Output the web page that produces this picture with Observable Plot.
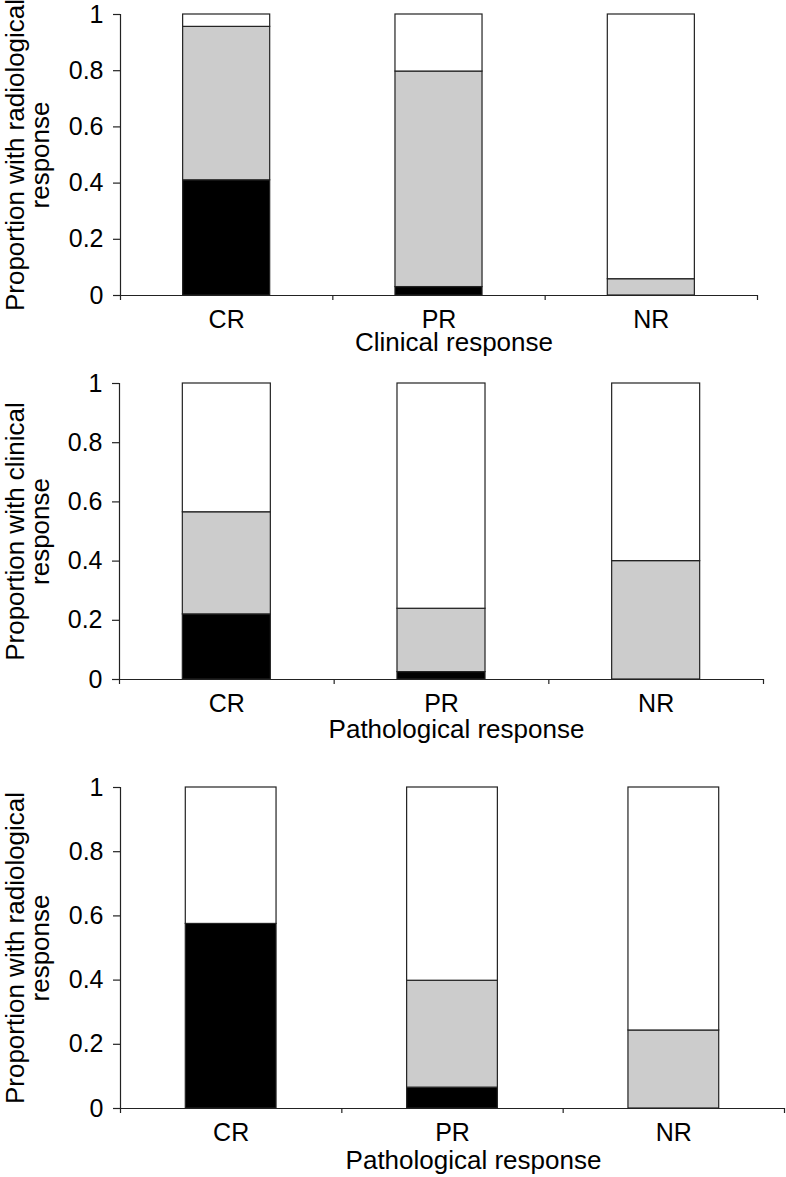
<!DOCTYPE html>
<html><head><meta charset="utf-8">
<script src="https://cdn.jsdelivr.net/npm/d3@7"></script>
<script src="https://cdn.jsdelivr.net/npm/@observablehq/plot@0.6"></script>
<style>body{margin:0;background:#fff;} svg{display:block;}</style>
</head><body><div id="chart"></div>
<script>
const categories = ["CR", "PR", "NR"];
const yTicks = [0, 0.2, 0.4, 0.6, 0.8, 1];
const segmentFills = {black: "#000000", grey: "#cccccc", white: "#ffffff"};

// Panel 1: radiological response by clinical response
const p1Title = "Clinical response";
const p1YLabel = ["Proportion with radiological", "response"];
const p1Black = [0.41, 0.03, 0];
const p1Grey = [0.546, 0.767, 0.058];
const p1White = [0.044, 0.203, 0.942];

// Panel 2: clinical response by pathological response
const p2Title = "Pathological response";
const p2YLabel = ["Proportion with clinical", "response"];
const p2Black = [0.22, 0.025, 0];
const p2Grey = [0.345, 0.214, 0.40];
const p2White = [0.435, 0.761, 0.60];

// Panel 3: radiological response by pathological response
const p3Title = "Pathological response";
const p3YLabel = ["Proportion with radiological", "response"];
const p3Black = [0.575, 0.065, 0];
const p3Grey = [0, 0.333, 0.243];
const p3White = [0.425, 0.602, 0.757];

function buildRows(black, grey, white) {
  const rows = [];
  categories.forEach((c, i) => {
    let base = 0;
    [["black", black[i]], ["grey", grey[i]], ["white", white[i]]].forEach(([s, v]) => {
      if (v > 0) rows.push({category: c, index: i, segment: s, y1: base, y2: base + v});
      base += v;
    });
  });
  return rows;
}

const halfBar = 0.205;
const ink = "#222";

function panel(cfg) {
  const rows = buildRows(cfg.black, cfg.grey, cfg.white);
  return Plot.plot({
    width: 786,
    height: cfg.height,
    marginTop: cfg.marginTop,
    marginBottom: cfg.marginBottom,
    marginLeft: cfg.marginLeft,
    marginRight: cfg.marginRight,
    style: {fontFamily: "'Liberation Sans', Arial, sans-serif", fontSize: "25px", color: "#000", background: "#fff", overflow: "visible"},
    x: {domain: [0, categories.length], axis: null},
    y: {domain: [0, 1], axis: null},
    marks: [
      Plot.rectY(rows, {
        x1: d => d.index + 0.5 - halfBar,
        x2: d => d.index + 0.5 + halfBar,
        y1: "y1", y2: "y2",
        fill: d => segmentFills[d.segment],
        stroke: ink, strokeWidth: 1.2
      }),
      Plot.ruleX([0], {y1: 0, y2: 1, stroke: ink, strokeWidth: 1.2}),
      Plot.ruleY([0], {stroke: ink, strokeWidth: 1.2}),
      Plot.axisY({ticks: yTicks, tickSize: 7, tickPadding: 10, tickFormat: d => String(d), stroke: ink, strokeWidth: 1.2, fontSize: 25}),
      Plot.axisX({ticks: d3.range(categories.length + 1), tickSize: 5, tickFormat: () => "", stroke: ink, strokeWidth: 1.2}),
      Plot.axisX({ticks: categories.map((c, i) => i + 0.5), tickSize: 0, tickPadding: 15, tickFormat: d => categories[Math.floor(d)], fontSize: 25}),
      Plot.text([cfg.yLabel[0]], {text: d => d, frameAnchor: "left", textAnchor: "middle", lineAnchor: "middle", rotate: -90, dx: cfg.yDx1, fontSize: 26}),
      Plot.text([cfg.yLabel[1]], {text: d => d, frameAnchor: "left", textAnchor: "middle", lineAnchor: "middle", rotate: -90, dx: cfg.yDx2, fontSize: 26}),
      Plot.text([cfg.title], {text: d => d, frameAnchor: "bottom", textAnchor: "middle", lineAnchor: "middle", dy: cfg.titleDy, dx: cfg.titleDx, fontSize: 26})
    ]
  });
}

const chart = document.getElementById("chart");
chart.append(panel({black: p1Black, grey: p1Grey, white: p1White, yLabel: p1YLabel, title: p1Title,
  height: 365, marginTop: 14, marginBottom: 70, marginLeft: 120, marginRight: 29,
  yDx1: -105, yDx2: -80, titleDy: 47, titleDx: 15}));
chart.append(panel({black: p2Black, grey: p2Grey, white: p2White, yLabel: p2YLabel, title: p2Title,
  height: 400, marginTop: 18, marginBottom: 86, marginLeft: 119, marginRight: 23,
  yDx1: -104, yDx2: -79, titleDy: 50, titleDx: 15}));
chart.append(panel({black: p3Black, grey: p3Grey, white: p3White, yLabel: p3YLabel, title: p3Title,
  height: 412, marginTop: 22, marginBottom: 69, marginLeft: 120, marginRight: 2,
  yDx1: -105, yDx2: -80, titleDy: 52, titleDx: 21}));
</script>
</body></html>
